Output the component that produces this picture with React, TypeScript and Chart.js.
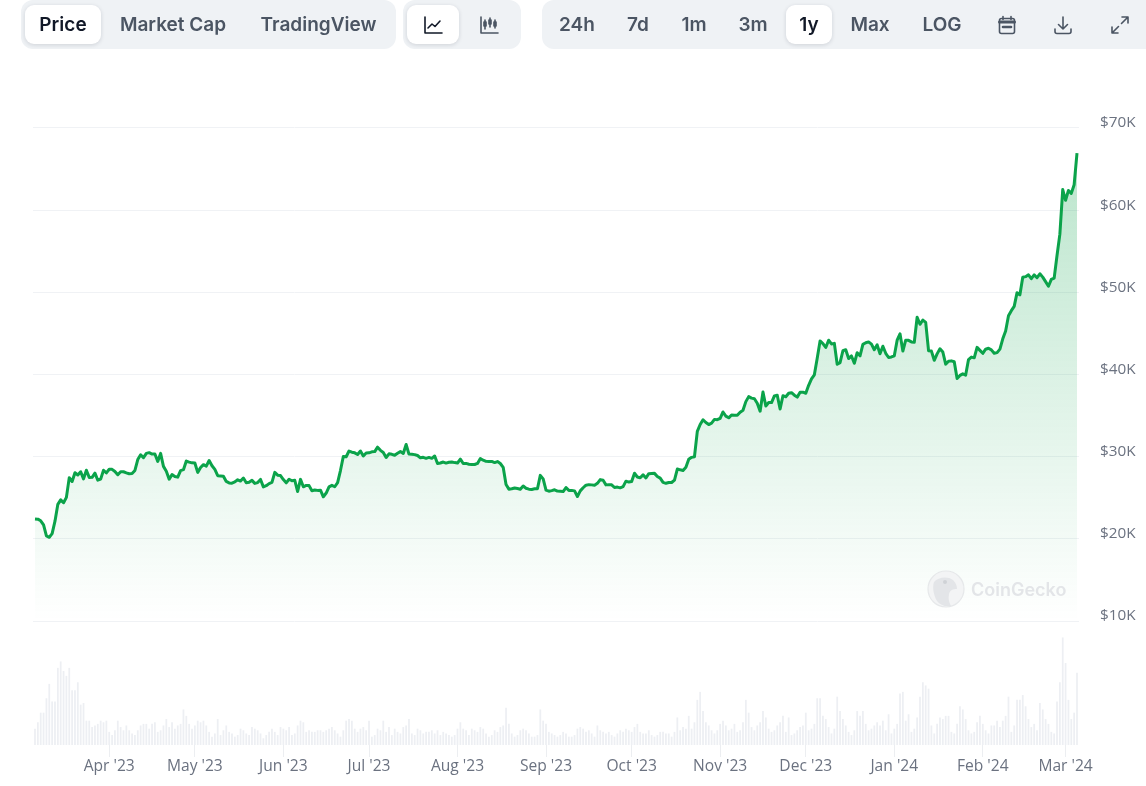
import { useEffect, useRef } from 'react';
import Chart from 'chart.js/auto';

const prices = [
  22430, 22400, 22200, 21700, 20360, 20190, 20630, 22150, 24200, 24750,
  24400, 25050, 27450, 26980, 28040, 27770, 28170, 27300, 28350, 27480,
  27490, 28000, 27140, 27270, 28350, 28030, 28470, 28460, 28200, 27800,
  28170, 28170, 28040, 27920, 27950, 28330, 29650, 30230, 29880, 30400,
  30490, 30320, 30320, 29430, 30400, 28820, 28240, 27260, 27820, 27590,
  27510, 28310, 28420, 29470, 29340, 29250, 29230, 28090, 28680, 29030,
  28850, 29530, 28900, 28450, 27690, 27660, 27630, 26990, 26810, 26780,
  26930, 27190, 27030, 27400, 26830, 26890, 27120, 26750, 26850, 27230,
  26330, 26470, 26720, 26870, 28090, 27750, 27700, 27220, 26820, 27250,
  27070, 27120, 25760, 27240, 26340, 26500, 26480, 25850, 25940, 25900,
  25920, 25120, 25580, 26330, 26510, 26340, 26840, 28310, 30030, 29990,
  30690, 30550, 30470, 30270, 30690, 30080, 30450, 30470, 30590, 30620,
  31160, 30770, 30510, 29900, 30350, 30290, 30170, 30410, 30620, 30390,
  31480, 30320, 30300, 30250, 30140, 29860, 29920, 29800, 29910, 29800,
  30080, 29180, 29230, 29350, 29220, 29320, 29350, 29280, 29230, 29700,
  29170, 29180, 29080, 29040, 29050, 29180, 29770, 29570, 29430, 29400,
  29420, 29280, 29410, 29170, 28700, 26620, 26050, 26100, 26190, 26130,
  26040, 26430, 26160, 26050, 26010, 26090, 26100, 27730, 27300, 25930,
  25800, 25870, 25970, 25810, 25780, 25750, 26240, 25900, 25900, 25840,
  25160, 25840, 26220, 26530, 26600, 26570, 26530, 26760, 27210, 27130,
  26570, 26580, 26580, 26250, 26300, 26210, 26350, 27020, 26910, 26970,
  27980, 27530, 27430, 27790, 27410, 27930, 27960, 27970, 27590, 27390,
  26870, 26760, 26860, 26860, 27150, 28500, 28400, 28330, 28720, 29680,
  29920, 29990, 33090, 33920, 34500, 34160, 33910, 34090, 34540, 34500,
  34670, 35440, 34940, 34730, 35080, 35050, 35040, 35420, 35650, 36700,
  37310, 37130, 37060, 36500, 35540, 37880, 36170, 36600, 36580, 37390,
  37480, 35810, 37420, 37290, 37720, 37790, 37480, 37250, 37830, 37850,
  37720, 38690, 39480, 39970, 41980, 44080, 43770, 43290, 44170, 43720,
  43790, 41240, 41450, 42890, 43020, 41940, 42260, 41370, 42650, 42270,
  43670, 43860, 43970, 43700, 43020, 43610, 42520, 43440, 42580, 42070,
  42140, 42280, 44180, 44950, 42850, 44180, 44160, 43970, 43930, 46970,
  46110, 46630, 46340, 42900, 42850, 41730, 42510, 43140, 42740, 41260,
  41620, 41660, 41550, 39510, 39890, 40080, 39930, 41820, 42120, 42030,
  43300, 42940, 42580, 43080, 43190, 43000, 42580, 42660, 43090, 44340,
  45290, 47150, 47770, 48290, 49960, 49700, 51830, 51910, 52130, 51660,
  52120, 51780, 52260, 51850, 51300, 50740, 51570, 51730, 54480, 57080,
  62500, 61200, 62400, 62040, 63100, 66950,
];

// daily volume, $B
const volumes = [
  10, 14, 20, 20, 29, 38, 27, 27, 48, 52,
  46, 43, 48, 34, 34, 39, 25, 26, 15, 15,
  11, 12, 13, 15, 14, 15, 8, 6, 9, 15,
  11, 9, 12, 9, 7, 6, 9, 12, 13, 13,
  10, 13, 14, 8, 9, 12, 16, 11, 14, 10,
  12, 13, 22, 18, 13, 10, 12, 15, 14, 15,
  12, 8, 5, 7, 16, 6, 9, 12, 8, 7,
  5, 6, 10, 9, 7, 6, 11, 10, 9, 7,
  4, 6, 8, 10, 8, 6, 11, 10, 9, 11,
  6, 7, 12, 15, 14, 8, 9, 8, 8, 9,
  9, 8, 9, 10, 11, 9, 7, 5, 9, 15,
  16, 15, 10, 8, 10, 11, 9, 15, 5, 6,
  10, 9, 15, 8, 11, 6, 10, 8, 7, 11,
  12, 16, 7, 6, 10, 9, 7, 8, 8, 9,
  7, 9, 6, 8, 7, 6, 5, 6, 10, 14,
  10, 9, 6, 10, 9, 8, 11, 10, 7, 5,
  6, 9, 8, 11, 12, 23, 13, 7, 5, 6,
  9, 10, 9, 7, 5, 5, 6, 22, 15, 13,
  8, 7, 6, 5, 6, 8, 7, 5, 5, 6,
  10, 11, 10, 8, 9, 7, 5, 12, 9, 8,
  7, 8, 6, 5, 7, 9, 8, 10, 9, 8,
  11, 13, 8, 7, 7, 9, 6, 5, 6, 8,
  8, 7, 7, 5, 8, 17, 9, 11, 10, 18,
  10, 14, 28, 33, 21, 14, 12, 9, 7, 9,
  13, 15, 12, 9, 10, 13, 8, 9, 14, 28,
  20, 11, 9, 12, 14, 21, 17, 10, 8, 9,
  12, 14, 18, 8, 17, 6, 7, 9, 11, 12,
  20, 9, 10, 13, 29, 29, 18, 16, 11, 7,
  10, 30, 21, 16, 12, 8, 6, 9, 21, 18,
  21, 13, 9, 10, 12, 14, 12, 15, 9, 19,
  7, 10, 13, 32, 33, 15, 19, 8, 10, 17,
  30, 39, 37, 35, 12, 7, 13, 17, 16, 18,
  18, 8, 7, 13, 24, 22, 16, 9, 7, 8,
  14, 18, 13, 9, 7, 12, 12, 15, 11, 15,
  18, 30, 8, 12, 28, 28, 31, 24, 16, 11,
  13, 9, 26, 22, 16, 13, 8, 7, 27, 39,
  67, 51, 28, 16, 20, 45,
];

// days since 6 Mar 2023
const monthDays = [26, 56, 87, 117, 148, 179, 209, 240, 270, 301, 332, 361];
const monthLabels = ["Apr '23", "May '23", "Jun '23", "Jul '23", "Aug '23", "Sep '23", "Oct '23", "Nov '23", "Dec '23", "Jan '24", "Feb '24", "Mar '24"];
const priceTicks = [10000, 20000, 30000, 40000, 50000, 60000, 70000];

const labelFont = '"Open Sans", sans-serif';

const Btn = ({ x, w, active, children }: any) => (
  <div style={{
    position: 'absolute', left: x, top: 5, width: w, height: 39, borderRadius: 9,
    background: active ? '#fff' : 'transparent',
    boxShadow: active ? '0 1px 4px rgba(17,24,39,0.14)' : 'none',
    color: active ? '#111827' : '#4b5563',
    display: 'flex', alignItems: 'center', justifyContent: 'center',
    font: '600 19px Inter, sans-serif', whiteSpace: 'nowrap',
  }}>{children}</div>
);

const Icon = ({ children }: any) => (
  <svg width="24" height="24" viewBox="0 0 24 24" fill="none" stroke="currentColor" strokeWidth="1.6" strokeLinecap="round" strokeLinejoin="round">{children}</svg>
);

const Toolbar = () => (
  <>
    <div style={{ position: 'absolute', left: 21, top: 0, width: 375, height: 49, background: '#eff2f5', borderRadius: 12 }} />
    <div style={{ position: 'absolute', left: 403, top: 0, width: 118, height: 49, background: '#eff2f5', borderRadius: 12 }} />
    <div style={{ position: 'absolute', left: 542, top: 0, width: 604, height: 49, background: '#eff2f5', borderRadius: '12px 0 0 12px' }} />
    <Btn x={25} w={76} active>Price</Btn>
    <Btn x={107} w={132}>Market Cap</Btn>
    <Btn x={245} w={147}>TradingView</Btn>
    <Btn x={407} w={52} active>
      <Icon><path d="M4 4v16h17" /><path d="M7 15l4-4 3 2.5 5-5.5" /></Icon>
    </Btn>
    <Btn x={463} w={52}>
      <Icon>
        <path d="M4 4v16h17" />
        <path d="M8 7v9M13 5v9M18 7v8" />
        <path d="M7 9h2v4H7zM12 7h2v4h-2zM17 9h2v4h-2z" fill="currentColor" />
      </Icon>
    </Btn>
    <Btn x={552} w={50}>24h</Btn>
    <Btn x={616} w={44}>7d</Btn>
    <Btn x={672} w={44}>1m</Btn>
    <Btn x={731} w={44}>3m</Btn>
    <Btn x={786} w={46} active>1y</Btn>
    <Btn x={845} w={50}>Max</Btn>
    <Btn x={917} w={50}>LOG</Btn>
    <Btn x={985} w={44}>
      <Icon>
        <rect x="4.5" y="5.5" width="15" height="15" rx="2" />
        <path d="M8 3.5v3M16 3.5v3" />
        <path d="M4.5 9h15" strokeWidth="3" />
        <path d="M8 14h8" strokeWidth="2.6" />
      </Icon>
    </Btn>
    <Btn x={1041} w={44}>
      <Icon><path d="M12 4v12M7.5 11.5L12 16l4.500-4.500" /><path d="M4 16v2.500a2 2 0 0 0 2 2h12a2 2 0 0 0 2-2V16" /></Icon>
    </Btn>
    <Btn x={1098} w={44}>
      <Icon><path d="M14 4h6v6M20 4l-6.500 6.500M10 20H4v-6M4 20l6.500-6.500" /></Icon>
    </Btn>
  </>
);

const Watermark = () => (
  <div style={{ position: 'absolute', left: 927, top: 570, display: 'flex', alignItems: 'center', gap: 6 }}>
    <svg width="38" height="38" viewBox="0 0 38 38">
      <circle cx="19" cy="19" r="18" fill="#f3f4f5" stroke="#e6e8ea" strokeWidth="1.2" />
      <path d="M7 12c4-5 14-6 19-2 3 3 4 6 4 9-4 0-7 1-8 5-1 5 0 8 2 12-6 1-11-1-14-5-3-5-5-13-3-19z" fill="#e3e5e8" />
      <circle cx="18" cy="12" r="2" fill="#cfd2d6" />
    </svg>
    <span style={{ font: '600 18px Inter, sans-serif', color: '#e3e5e8' }}>CoinGecko</span>
  </div>
);

const App = () => {
  const chartRef = useRef<HTMLCanvasElement>(null);
  const chartInstance = useRef<Chart | null>(null);

  useEffect(() => {
    const canvas = chartRef.current;
    if (!canvas) return;
    const ctx = canvas.getContext('2d');
    if (!ctx) return;

    chartInstance.current = new Chart(ctx, {
      type: 'line',
      data: {
        datasets: [
          {
            type: 'line',
            data: prices.map((p, i) => ({ x: i, y: p })),
            yAxisID: 'y',
            borderColor: '#0ba34a',
            borderWidth: 3,
            pointRadius: 0,
            tension: 0,
            borderJoinStyle: 'round',
            fill: { value: 10000 },
            backgroundColor: (c: any) => {
              const { chart } = c;
              if (!chart.chartArea) return 'rgba(11,163,74,0.1)';
              const s = chart.scales.y;
              const g = chart.ctx.createLinearGradient(0, s.getPixelForValue(66950), 0, s.getPixelForValue(10000));
              g.addColorStop(0, 'rgba(11,163,74,0.28)');
              g.addColorStop(1, 'rgba(11,163,74,0)');
              return g;
            },
            order: 1,
          },
          {
            type: 'bar',
            data: volumes.map((v, i) => ({ x: i, y: v })),
            yAxisID: 'yVol',
            backgroundColor: '#edeff3',
            barThickness: 1.1,
            order: 2,
          },
        ],
      },
      options: {
        responsive: false,
        animation: false,
        events: [],
        layout: { padding: { left: 33, top: 100, right: 0, bottom: 0 } },
        plugins: { legend: { display: false }, tooltip: { enabled: false } },
        scales: {
          x: {
            type: 'linear',
            min: -0.7,
            max: 365.7,
            offset: false,
            afterBuildTicks: (scale: any) => {
              scale.ticks = monthDays.map((value) => ({ value }));
            },
            afterFit: (scale: any) => { scale.height = 41; },
            ticks: {
              autoSkip: false,
              maxRotation: 0,
              padding: 0,
              color: '#6b7280',
              font: { family: labelFont, size: 15.6 },
              callback: (_v: any, i: number) => monthLabels[i],
            },
            border: { display: false },
            grid: { drawOnChartArea: false, drawTicks: true, tickLength: 12, tickColor: '#eceef1', offset: false },
          },
          y: {
            position: 'right',
            min: -5085,
            max: 73406,
            afterBuildTicks: (scale: any) => {
              scale.ticks = priceTicks.map((value) => ({ value }));
            },
            afterFit: (scale: any) => { scale.width = 67; },
            ticks: {
              padding: 21,
              labelOffset: -5,
              color: '#6b7280',
              font: { family: labelFont, size: 15.3 },
              callback: (v: any) => `$${v / 1000}K`,
            },
            border: { display: false },
            grid: { color: '#f0f2f5', drawTicks: false },
          },
          yVol: {
            display: false,
            min: 0,
            max: 403,
          },
        },
      },
    } as any);

    return () => {
      if (chartInstance.current) {
        chartInstance.current.destroy();
      }
    };
  }, []);

  return (
    <div style={{ position: 'absolute', left: 0, top: 0, width: 1146, height: 786, background: '#fff', overflow: 'hidden' }}>
      <canvas ref={chartRef} width={1146} height={786} style={{ position: 'absolute', left: 0, top: 0, display: 'block' }} />
      <Toolbar />
      <Watermark />
    </div>
  );
};

export default App;
